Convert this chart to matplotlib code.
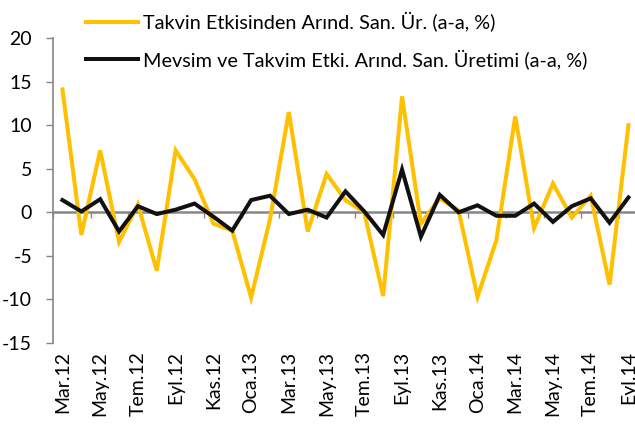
import matplotlib.pyplot as plt
import numpy as np

plt.rcParams['font.family'] = ['Lato', 'DejaVu Sans']
plt.rcParams['axes.unicode_minus'] = False

aylar = ['Mar.12', 'Nis.12', 'May.12', 'Haz.12', 'Tem.12', 'Ağu.12', 'Eyl.12', 'Eki.12',
         'Kas.12', 'Ara.12', 'Oca.13', 'Şub.13', 'Mar.13', 'Nis.13', 'May.13', 'Haz.13',
         'Tem.13', 'Ağu.13', 'Eyl.13', 'Eki.13', 'Kas.13', 'Ara.13', 'Oca.14', 'Şub.14',
         'Mar.14', 'Nis.14', 'May.14', 'Haz.14', 'Tem.14', 'Ağu.14', 'Eyl.14']

takvim = [14.1, -2.6, 7.1, -3.4, 0.9, -6.7, 7.1, 3.8, -1.3, -2.1,
          -9.8, -0.8, 11.5, -2.2, 4.4, 1.4, 0.0, -9.6, 13.3, -1.3,
          1.6, 0.2, -9.7, -3.2, 11.0, -1.8, 3.3, -0.6, 1.9, -8.3, 10.0]

mevsim = [1.4, 0.1, 1.5, -2.2, 0.7, -0.2, 0.3, 1.0, -0.5, -2.1,
          1.4, 1.9, -0.2, 0.3, -0.6, 2.4, 0.1, -2.6, 4.9, -2.8,
          2.0, 0.0, 0.8, -0.4, -0.4, 1.0, -1.1, 0.7, 1.6, -1.2, 1.7]

etiket_takvim = 'Takvin Etkisinden Arınd. San. Ür. (a-a, %)'
etiket_mevsim = 'Mevsim ve Takvim Etki. Arınd. San. Üretimi (a-a, %)'

x = np.arange(len(aylar))
gri = '#868686'

fig = plt.figure(figsize=(6.35, 4.26), dpi=100)
ax = fig.add_axes([0.0835, 0.1948, 0.921, 0.716])

ax.plot(x, takvim, color='#FFC000', lw=2.9, label=etiket_takvim, solid_joinstyle='miter')
ax.plot(x, mevsim, color='#111111', lw=2.9, label=etiket_mevsim, solid_joinstyle='miter')

ax.set_xlim(-0.5, len(aylar) - 0.5)
ax.set_ylim(-15, 20)
ax.set_yticks(np.arange(-15, 21, 5))
ax.tick_params(axis='y', labelsize=14, length=5, width=1, color=gri, pad=10)

# etiketler altta, iki ayda bir
ax.set_xticks(x[::2])
ax.set_xticklabels(aylar[::2], rotation=90, fontsize=14)
ax.tick_params(axis='x', length=0, pad=6)

for s in ['top', 'right', 'bottom']:
    ax.spines[s].set_visible(False)
ax.spines['left'].set_color(gri)
ax.spines['left'].set_linewidth(1.2)

# sıfır çizgisi ve küçük çentikler
sifir = ax.secondary_xaxis(15 / 35)
sifir.set_xticks(np.arange(-0.5, len(aylar), 2))
sifir.set_xticklabels([])
sifir.tick_params(length=4, width=1, color=gri)
sifir.spines['bottom'].set_color(gri)
sifir.spines['bottom'].set_linewidth(1.8)

fig.legend(loc='upper left', bbox_to_anchor=(0.129, 0.982), frameon=False, fontsize=14.3,
           handlelength=2.6, handletextpad=0.3, labelspacing=0.87, borderpad=0.2,
           borderaxespad=0)

plt.savefig('out.png', dpi=100)
